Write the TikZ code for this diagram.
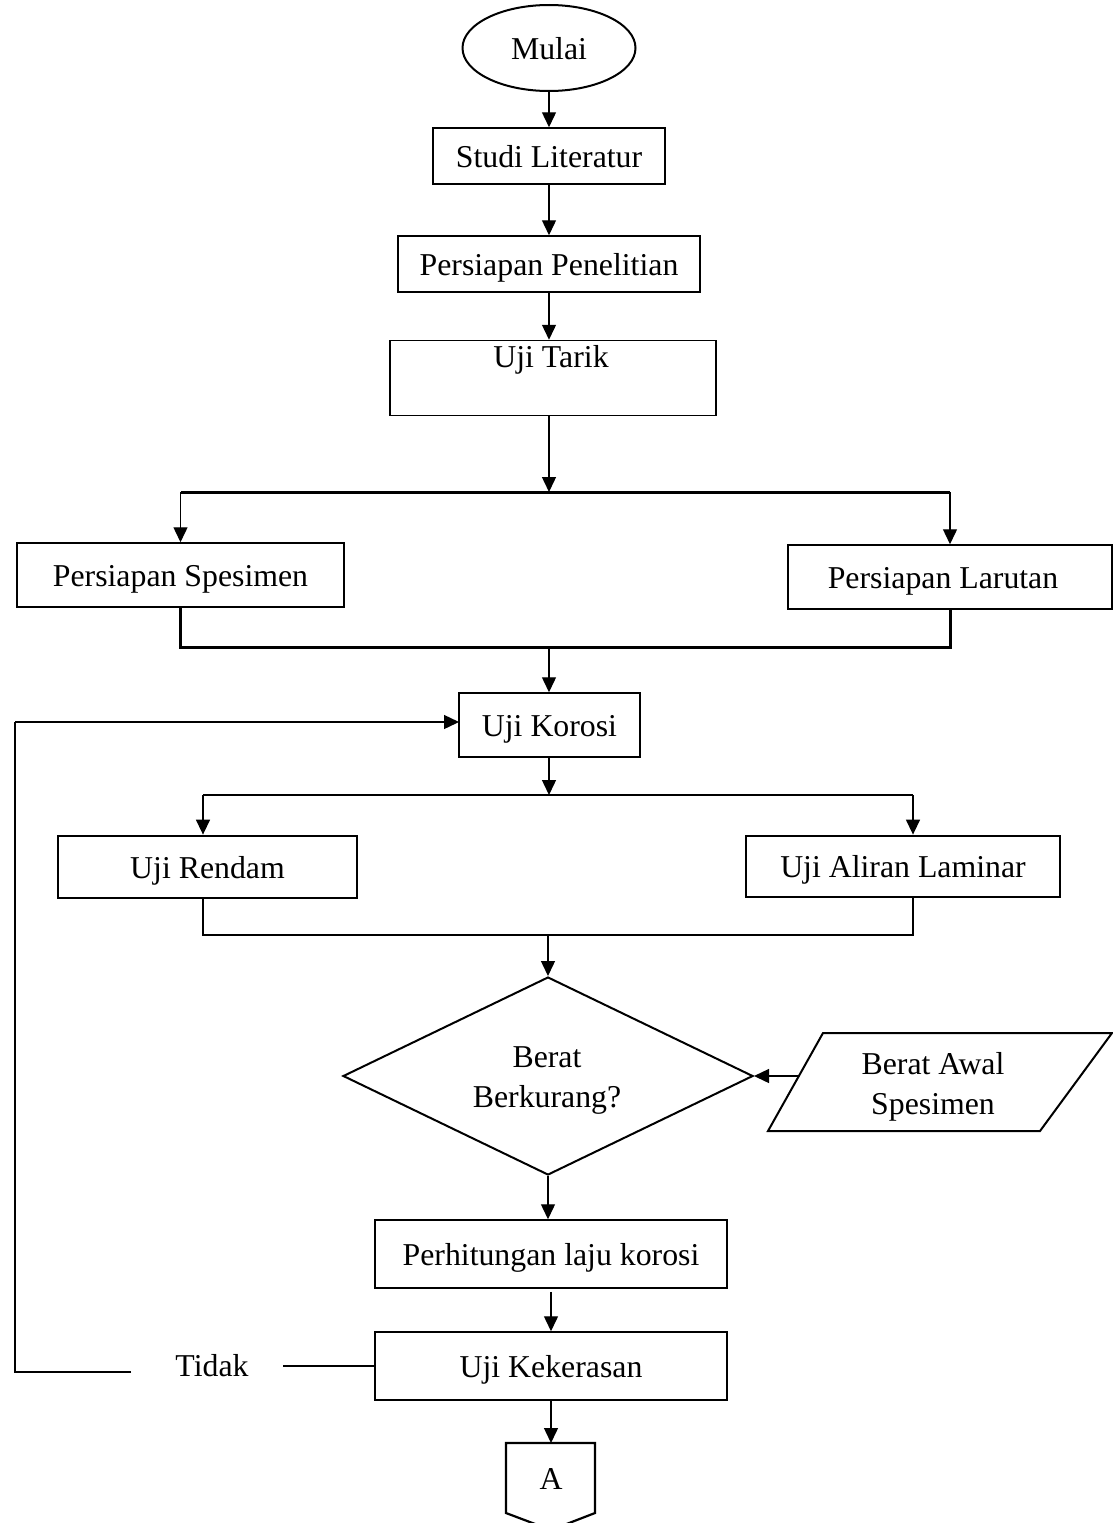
\documentclass[tikz,border=0pt]{standalone}
\usepackage{fontspec}
\setmainfont{Liberation Serif}
\usetikzlibrary{arrows.meta,shapes.geometric}
\begin{document}
\begin{tikzpicture}[x=1pt,y=-1pt,
  font=\fontsize{31.8}{40}\selectfont,
  txt/.style={inner sep=0pt, text height=25pt, text depth=3pt},
  box/.style={draw, line width=1.5pt, txt},
  thickbox/.style={box, line width=2.8pt},
  arr/.style={line width=1.4pt, -{Triangle[length=15pt,width=14pt]}},
  ln/.style={line width=1.4pt},
  tln/.style={line width=3pt},
]
\useasboundingbox (0,0) rectangle (1112,1523);

% nodes
\node[draw, ellipse, line width=2pt, minimum width=173, minimum height=86, txt] (mulai) at (549,48) {Mulai};
\node[box, minimum width=232, minimum height=56] (studi) at (549,156) {Studi Literatur};
\node[box, minimum width=302, minimum height=56] (penelitian) at (549,264) {Persiapan Penelitian};
\node[box, minimum width=326, minimum height=75] (tarik) at (553,378) {};
\node[txt] (tariktext) at (551,356) {Uji Tarik};
\node[box, minimum width=327, minimum height=64] (spes) at (180.5,575) {Persiapan Spesimen};
\node[box, minimum width=324, minimum height=64] (lar) at (950,577) {};
\node[txt] (lartext) at (943,577) {Persiapan Larutan};
\node[box, minimum width=181, minimum height=64] (korosi) at (549.5,725) {Uji Korosi};
\node[thickbox, minimum width=299, minimum height=62] (rendam) at (207.5,867) {Uji Rendam};
\node[thickbox, minimum width=314, minimum height=61] (laminar) at (903,866.5) {Uji Aliran Laminar};
\node[draw, diamond, line width=2pt, minimum width=410, minimum height=198, aspect=2.07, inner sep=0pt] (dia) at (548,1076) {};
\node[align=center, inner sep=0pt] (diatext) at (547,1081) {Berat\\Berkurang?};
\draw[line width=2pt] (823,1033) -- (1112,1033) -- (1040,1131) -- (768,1131) -- cycle;
\node[align=center, inner sep=0pt] (awal) at (933,1087) {Berat Awal\\Spesimen};
\node[box, minimum width=352, minimum height=68] (hitung) at (551,1254) {Perhitungan laju korosi};
\node[box, minimum width=352, minimum height=68] (keras) at (551,1366) {Uji Kekerasan};
\node[txt] (tidak) at (212,1365) {Tidak};
\draw[line width=2.2pt] (506,1443) -- (595,1443) -- (595,1513) -- (551,1530) -- (506,1513) -- cycle;
\node[txt] (A) at (551,1478) {A};

% coordinates
\coordinate (b1) at (549,492);
\coordinate (m1) at (549,647);
\coordinate (b2) at (549,795);
\coordinate (r1) at (203,795);
\coordinate (r2) at (913,795);
\coordinate (m2) at (548,935);
\coordinate (inp) at (799,1076);
\coordinate (t1) at (283,1366);
\coordinate (t2) at (131,1372);
\coordinate (t3) at (15,1372);
\coordinate (t4) at (15,722);
\coordinate (kin) at (459,722);
\coordinate (atop) at (551,1443);

% connectors
\draw[arr] (mulai) -- (studi);
\draw[arr] (studi) -- (penelitian);
\draw[arr] (penelitian.south) -- (penelitian.south |- tarik.north);
\draw[arr] (tarik.south -| b1) -- (b1);
\draw[tln] (spes.north |- b1) -- (lar.north |- b1);
\draw[arr] (spes.north |- b1) -- (spes.north);
\draw[arr] (lar.north |- b1) -- (lar.north);
\draw[tln] (spes.south) -- (spes.south |- m1) -- (lar.south |- m1) -- (lar.south);
\draw[arr] (m1) -- (m1 |- korosi.north);
\draw[arr] (korosi.south -| b2) -- (b2);
\draw[ln] (r1) -- (r2);
\draw[arr] (r1) -- (r1 |- rendam.north);
\draw[arr] (r2) -- (r2 |- laminar.north);
\draw[ln] (r1 |- rendam.south) -- (r1 |- m2) -- (r2 |- m2) -- (r2 |- laminar.south);
\draw[arr] (m2) -- (dia.north);
\draw[arr] (inp) -- (dia.east);
\draw[arr] (dia.south) -- (dia.south |- hitung.north);
\draw[arr] ([yshift=-3pt]hitung.south) -- (keras.north);
\draw[arr] (keras.south) -- (atop);
\draw[ln] (keras.west) -- (t1);
\draw[ln] (t2) -- (t3) -- (t4);
\draw[arr] (t4) -- (kin);
\end{tikzpicture}
\end{document}
